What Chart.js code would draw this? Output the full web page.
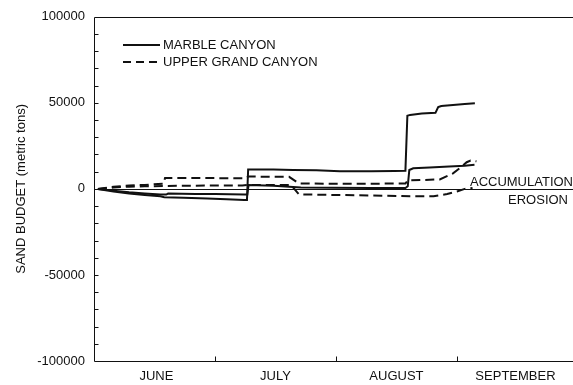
<!DOCTYPE html>
<html>
<head>
<meta charset="utf-8">
<script src="https://cdn.jsdelivr.net/npm/chart.js@4/dist/chart.umd.min.js"></script>
<style>
  html, body { margin: 0; padding: 0; background: #fff; overflow: hidden; }
  #wrap { width: 573px; height: 385px; overflow: hidden; position: relative; }
  canvas { display: block; }
</style>
</head>
<body>
<div id="wrap"><canvas id="c" width="580" height="385" style="width:580px;height:385px"></canvas></div>
<script>
// Days counted from June 1 (June 1 = 0, July 1 = 30, Aug 1 = 61, Sep 1 = 92, Oct 1 = 122)
const monthLabels = ['JUNE', 'JULY', 'AUGUST', 'SEPTEMBER'];
const monthMidDays = [15, 45.5, 76.5, 107];
const monthStartDays = [30, 61, 92];

// Marble Canyon, first estimate (cumulative sand budget, metric tons)
const marbleA_days = [0, 4, 8, 12, 16, 17, 22, 28, 33, 37.5, 38.2, 38.5, 45, 50, 56, 62, 70, 76, 78.8, 79.3, 80, 83, 86.5, 87.2, 88, 91, 94, 96.6];
const marbleA_tons = [0, -1500, -2700, -3500, -4300, -4800, -5200, -5600, -6000, -6500, -6500, 11300, 11200, 11000, 10800, 10300, 10200, 10400, 10600, 42500, 43000, 43800, 44200, 47500, 48200, 48800, 49300, 49800];

// Marble Canyon, second estimate
const marbleB_days = [0, 4, 8, 12, 16, 17.5, 18, 25, 30, 37.5, 38.3, 38.6, 45, 52, 60, 70, 78.8, 79.4, 79.8, 80.8, 85, 90, 94, 96.5];
const marbleB_tons = [0, -1000, -2000, -2700, -3200, -3300, -2700, -2900, -3000, -3300, -3300, 2300, 1800, 800, 600, 500, 500, 1500, 11000, 12000, 12500, 13000, 13500, 14000];

// Upper Grand Canyon, first estimate
const grandA_days = [0, 4, 8, 12, 16.8, 17.2, 25, 38, 38.5, 45, 49, 51.5, 60, 70, 78.8, 79.5, 85, 87.6, 91, 93, 94.5, 95.5, 97];
const grandA_tons = [0, 1200, 2000, 2300, 3000, 6300, 6300, 6200, 7200, 7000, 7000, 3200, 3000, 3000, 3200, 5000, 5300, 5500, 9000, 12500, 15500, 16500, 16000];

// Upper Grand Canyon, second estimate
const grandB_days = [0, 4, 8, 12, 17, 25, 37, 38.5, 45, 49.5, 51.5, 60, 70, 80, 86, 89.5, 92, 94, 96];
const grandB_tons = [0, 800, 1300, 1500, 1700, 1900, 2000, 2300, 2300, 2300, -3200, -3500, -3800, -4200, -4200, -3000, -1500, 0, 500];

const yMinorStep = 10000;
const yLabelStep = 50000;

const FONT = '"Liberation Sans", Arial, Helvetica, sans-serif';
const INK = '#111';

function toPoints(days, tons) {
  return days.map((d, i) => ({ x: d, y: tons[i] }));
}

// Frame, inward tick marks, zero line, legend and side notes
const decorations = {
  id: 'decorations',
  beforeDatasetsDraw(chart) {
    const { ctx, chartArea: a, scales: { x, y } } = chart;
    ctx.save();
    // zero line
    const y0 = Math.round(y.getPixelForValue(0)) + 0.5;
    ctx.strokeStyle = INK;
    ctx.lineWidth = 1;
    ctx.beginPath();
    ctx.moveTo(a.left, y0);
    ctx.lineTo(a.right, y0);
    ctx.stroke();
    ctx.restore();
  },
  afterDatasetsDraw(chart) {
    const { ctx, chartArea: a, scales: { x, y } } = chart;
    ctx.save();
    ctx.strokeStyle = INK;
    ctx.lineWidth = 1;
    ctx.setLineDash([]);
    const L = Math.round(a.left) + 0.5, T = Math.round(a.top) + 0.5;
    const R = Math.round(a.right) + 0.5, B = Math.round(a.bottom) + 0.5;
    ctx.beginPath();
    ctx.moveTo(L, T); ctx.lineTo(R, T); ctx.lineTo(R, B); ctx.lineTo(L, B); ctx.closePath();
    ctx.stroke();

    // y ticks pointing into the plot
    ctx.beginPath();
    for (let v = y.min + yMinorStep; v < y.max; v += yMinorStep) {
      const py = Math.round(y.getPixelForValue(v)) + 0.5;
      ctx.moveTo(L, py);
      ctx.lineTo(L + 4, py);
    }
    // x ticks at month boundaries
    monthStartDays.forEach(d => {
      const px = Math.round(x.getPixelForValue(d)) + 0.5;
      ctx.moveTo(px, B);
      ctx.lineTo(px, B - 5);
    });
    ctx.stroke();

    // legend
    const legend = [
      { text: 'MARBLE CANYON', dash: [], y: 45 },
      { text: 'UPPER GRAND CANYON', dash: [8, 5], y: 62 }
    ];
    ctx.font = '13px ' + FONT;
    ctx.fillStyle = INK;
    ctx.textBaseline = 'middle';
    ctx.textAlign = 'left';
    legend.forEach(item => {
      ctx.lineWidth = 2;
      ctx.setLineDash(item.dash);
      ctx.beginPath();
      ctx.moveTo(a.left + 29, item.y);
      ctx.lineTo(a.left + 66, item.y);
      ctx.stroke();
      ctx.fillText(item.text, a.left + 69, item.y);
    });

    // side notes above and below the zero line
    const y0 = y.getPixelForValue(0);
    ctx.textAlign = 'right';
    ctx.fillText('ACCUMULATION', a.right - 1, y0 - 6);
    ctx.fillText('EROSION', a.right - 6, y0 + 12);
    ctx.restore();
  }
};

const lineStyle = { borderColor: INK, borderWidth: 2, pointRadius: 0, fill: false, tension: 0 };

new Chart(document.getElementById('c'), {
  type: 'line',
  data: {
    datasets: [
      { label: 'MARBLE CANYON', data: toPoints(marbleA_days, marbleA_tons), ...lineStyle },
      { label: 'MARBLE CANYON', data: toPoints(marbleB_days, marbleB_tons), ...lineStyle },
      { label: 'UPPER GRAND CANYON', data: toPoints(grandA_days, grandA_tons), ...lineStyle, borderDash: [9, 5] },
      { label: 'UPPER GRAND CANYON', data: toPoints(grandB_days, grandB_tons), ...lineStyle, borderDash: [9, 5] }
    ]
  },
  options: {
    responsive: false,
    animation: false,
    devicePixelRatio: 1,
    layout: { padding: { top: 14, right: 6, bottom: 0, left: 0 } },
    plugins: { legend: { display: false }, tooltip: { enabled: false } },
    scales: {
      x: {
        type: 'linear',
        min: -1,
        max: 122,
        border: { display: false },
        grid: { display: false, drawTicks: false },
        afterBuildTicks(scale) { scale.ticks = monthMidDays.map(v => ({ value: v })); },
        afterFit(scale) { scale.height = 24; },
        ticks: {
          autoSkip: false,
          maxRotation: 0,
          minRotation: 0,
          padding: 8,
          color: INK,
          font: { family: FONT, size: 13 },
          callback: (v, i) => monthLabels[i]
        }
      },
      y: {
        type: 'linear',
        min: -100000,
        max: 100000,
        border: { display: false },
        grid: { display: false, drawTicks: false },
        afterFit(scale) { scale.width = 94; },
        afterBuildTicks(scale) {
          const t = [];
          for (let v = -100000; v <= 100000; v += yLabelStep) t.push({ value: v });
          scale.ticks = t;
        },
        ticks: {
          padding: 9,
          color: INK,
          font: { family: FONT, size: 13 },
          callback: v => String(v)
        },
        title: {
          display: true,
          text: 'SAND BUDGET (metric tons)',
          color: INK,
          font: { family: FONT, size: 13 },
          padding: { top: 14, bottom: 0 }
        }
      }
    }
  },
  plugins: [decorations]
});
</script>
</body>
</html>
